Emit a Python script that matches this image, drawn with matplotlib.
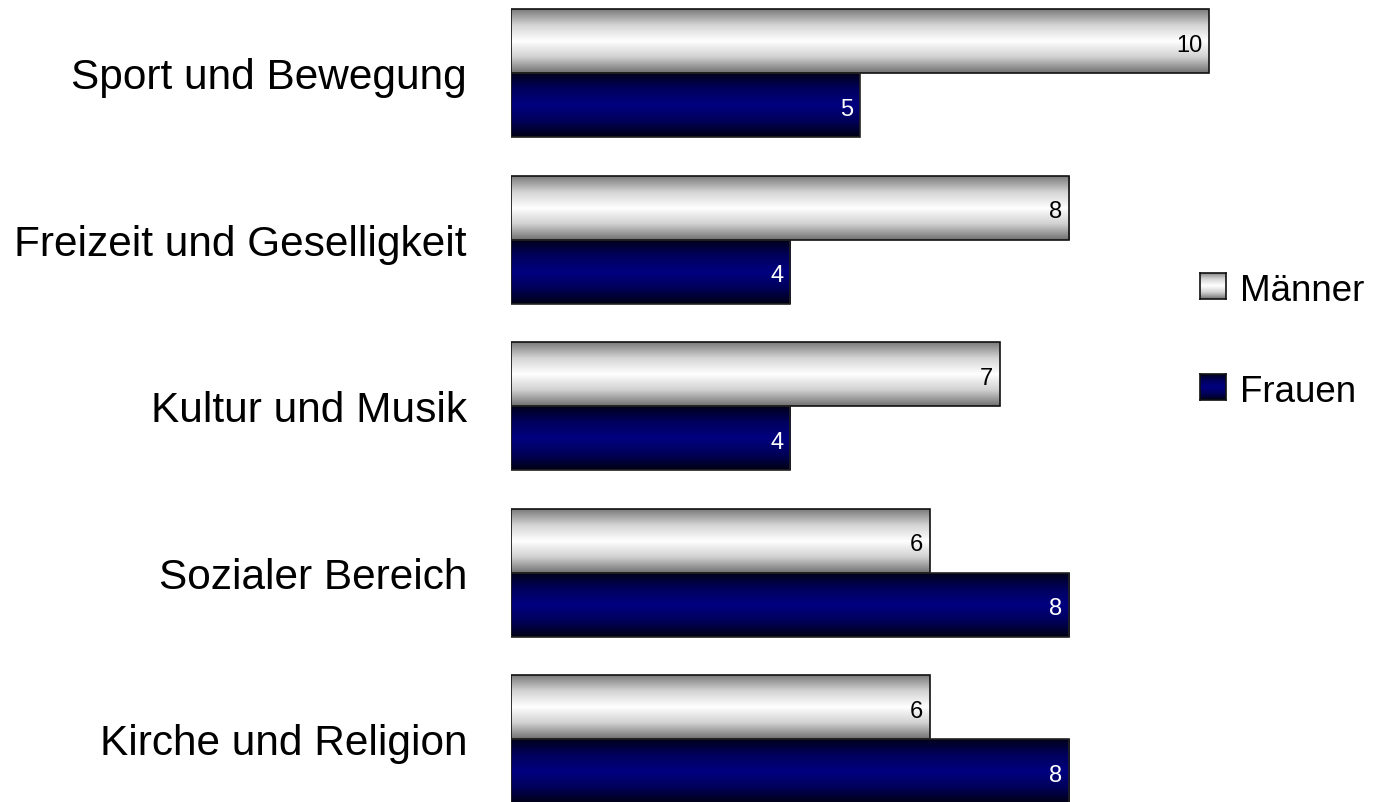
import numpy as np
import matplotlib.pyplot as plt
from matplotlib.colors import LinearSegmentedColormap
from matplotlib.patches import Rectangle

plt.rcParams['font.family'] = ['Liberation Sans', 'DejaVu Sans']

categories = ['Sport und Bewegung', 'Freizeit und Geselligkeit', 'Kultur und Musik',
              'Sozialer Bereich', 'Kirche und Religion']
maenner = [10, 8, 7, 6, 6]
frauen = [5, 4, 4, 8, 8]

W, H = 1378, 802
fig = plt.figure(figsize=(W / 100, H / 100), dpi=100)

# axes placed so that one unit = ~69.8 px, categories ~166.6 px apart
px_unit = 69.8
cat_px = 166.6
xmax = 12
ax = fig.add_axes([511 / W, 0, xmax * px_unit / W, 1])
ytop = -73 / cat_px
ybot = ytop + H / cat_px
ax.axis('off')

bh = 64 / cat_px
lab_off = 42.5 / cat_px

grey_cm = LinearSegmentedColormap.from_list('g', ['#7a7a7a', '#d4d4d4', '#ffffff', '#d0d0d0', '#707070'])
navy_cm = LinearSegmentedColormap.from_list('n', ['#00001a', '#00005e', '#000080', '#00005a', '#000014'])
grad = np.linspace(0, 1, 256).reshape(-1, 1)


def gbar(a, x0, x1, y0, y1, cmap, edge):
    a.imshow(grad, extent=[x0, x1, y1, y0], origin='upper', aspect='auto', cmap=cmap,
             interpolation='bilinear', zorder=2)
    a.add_patch(Rectangle((x0, y0), x1 - x0, y1 - y0, fill=False, edgecolor=edge,
                          linewidth=1.2, zorder=3))


for i, (m, f) in enumerate(zip(maenner, frauen)):
    gbar(ax, 0, m, i - bh, i, grey_cm, '#111111')
    gbar(ax, 0, f, i, i + bh, navy_cm, '#222222')
    ax.text(m - 0.1, i - bh + lab_off, str(m), ha='right', va='baseline', fontsize=17, color='black', zorder=4)
    ax.text(f - 0.1, i + lab_off, str(f), ha='right', va='baseline', fontsize=17, color='white', zorder=4)
    fig.text(467 / W, 1 - (89 + cat_px * i) / H, categories[i], ha='right', va='baseline',
             fontsize=30.5)

ax.set_xlim(0, xmax)
ax.set_ylim(ybot, ytop)

# legend with gradient swatches
leg = [('Männer', grey_cm, 286, 301), ('Frauen', navy_cm, 387, 402)]
for name, cm, yc, yb in leg:
    sax = fig.add_axes([1200 / W, 1 - (yc + 13) / H, 26 / W, 26 / H])
    sax.imshow(grad, aspect='auto', cmap=cm, interpolation='bilinear')
    for s in sax.spines.values():
        s.set_linewidth(1.2)
        s.set_color('#111111')
    sax.set_xticks([])
    sax.set_yticks([])
    fig.text(1240 / W, 1 - yb / H, name, ha='left', va='baseline', fontsize=26.5)

fig.savefig('out.png', dpi=100)
